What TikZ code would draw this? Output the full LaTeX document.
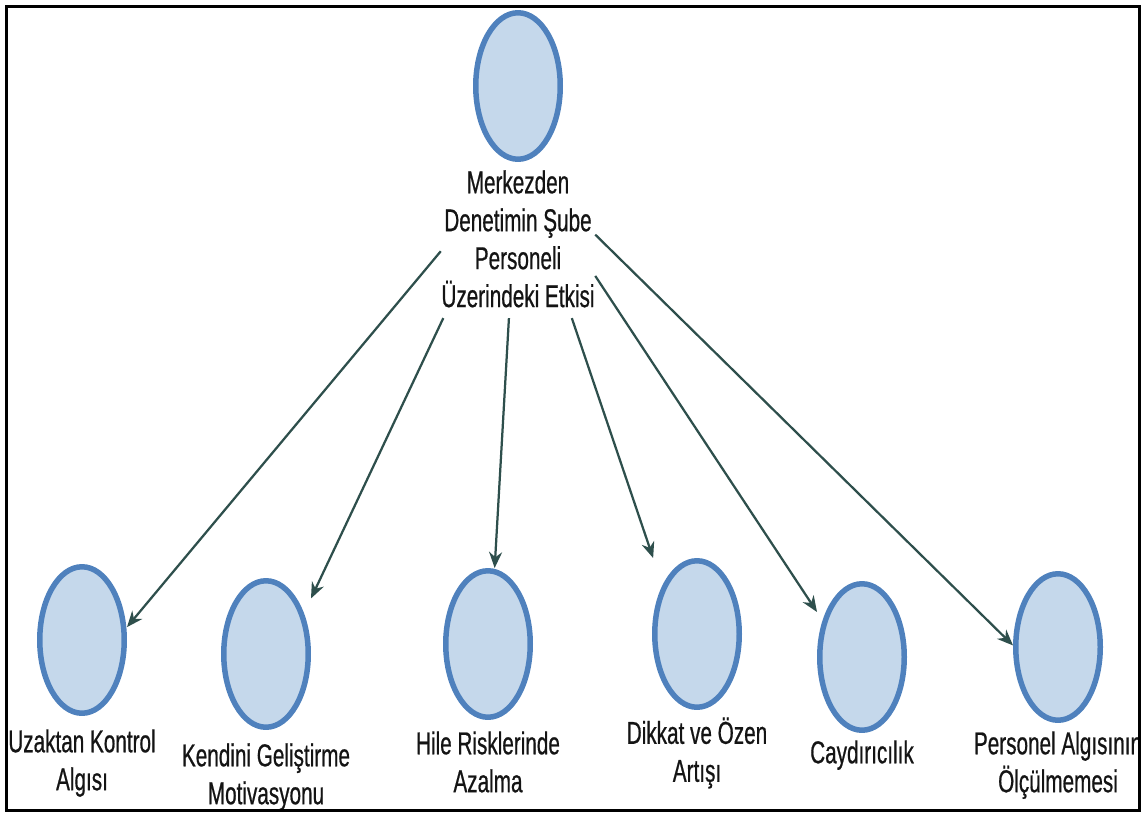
\documentclass[tikz,border=0pt]{standalone}
\usepackage{fontspec}
\setmainfont[FakeStretch=0.655,FakeBold=0.6]{Liberation Sans}
\usepackage{xcolor}
\usepackage{tikz}
\usetikzlibrary{positioning,arrows.meta,fit}
\definecolor{BubbleLine}{HTML}{4F81BD}
\definecolor{BubbleFill}{HTML}{C5D8EB}
\definecolor{LinkDark}{HTML}{2E4F4C}
\definecolor{TextDark}{HTML}{141414}

\begin{document}
\begin{tikzpicture}[x=0.02cm,y=-0.02cm,
    every node/.style={font=\fontsize{18}{21.6}\selectfont},
    bubble/.style={rectangle, minimum width=1.8cm, minimum height=3.04cm,
      inner sep=0pt, outer sep=0pt,
      path picture={\draw[BubbleLine, fill=BubbleFill, line width=0.11cm]
        (path picture bounding box.center) ellipse (0.845cm and 1.465cm);}},
    lbl/.style={align=center, inner sep=0pt, text=TextDark},
    ar/.style={-{Stealth[length=0.32cm,width=0.26cm]}, line width=0.045cm, LinkDark}]
  \useasboundingbox (0,0) rectangle (1141,814);

  % root
  \node[bubble] (top) at (518,86) {};
  \node[lbl, below=0.16cm of top] (toplbl)
    {Merkezden\\Denetimin Şube\\Personeli\\Üzerindeki Etkisi};
  \node[fit=(top)(toplbl), inner xsep=0pt, inner ysep=0.2cm] (hub) {};

  % children
  \node[bubble] (e1) at (82,640) {};
  \node[bubble] (e2) at (266,654) {};
  \node[bubble] (e3) at (488,644) {};
  \node[bubble] (e4) at (697,634) {};
  \node[bubble] (e5) at (862,657) {};
  \node[bubble] (e6) at (1058,647) {};

  \node[lbl, below=0.26cm of e1] (l1) {Uzaktan Kontrol\\Algısı};
  \node[lbl, below=0.26cm of e2] (l2) {Kendini Geliştirme\\Motivasyonu};
  \node[lbl, below=0.22cm of e3] (l3) {Hile Risklerinde\\Azalma};
  \node[lbl, below=0.14cm of e4] (l4) {Dikkat ve Özen\\Artışı};
  \node[lbl, below=0.14cm of e5] (l5) {Caydırıcılık};
  \node[lbl, below=0.16cm of e6] (l6) {Personel Algısının\\Ölçülmemesi};

  \draw[ar] (hub) -- (e1.16);
  \draw[ar] (hub) -- (e2.51);
  \draw[ar] (hub) -- (e3.85);
  \draw[ar] (hub) -- (e4.120);
  \draw[ar] (hub) -- (e5.135);
  \draw[ar] (hub) -- (e6.178);

  % frame
  \draw[line width=0.06cm] (6.5,6.5) rectangle (1139,810.5);
\end{tikzpicture}
\end{document}
